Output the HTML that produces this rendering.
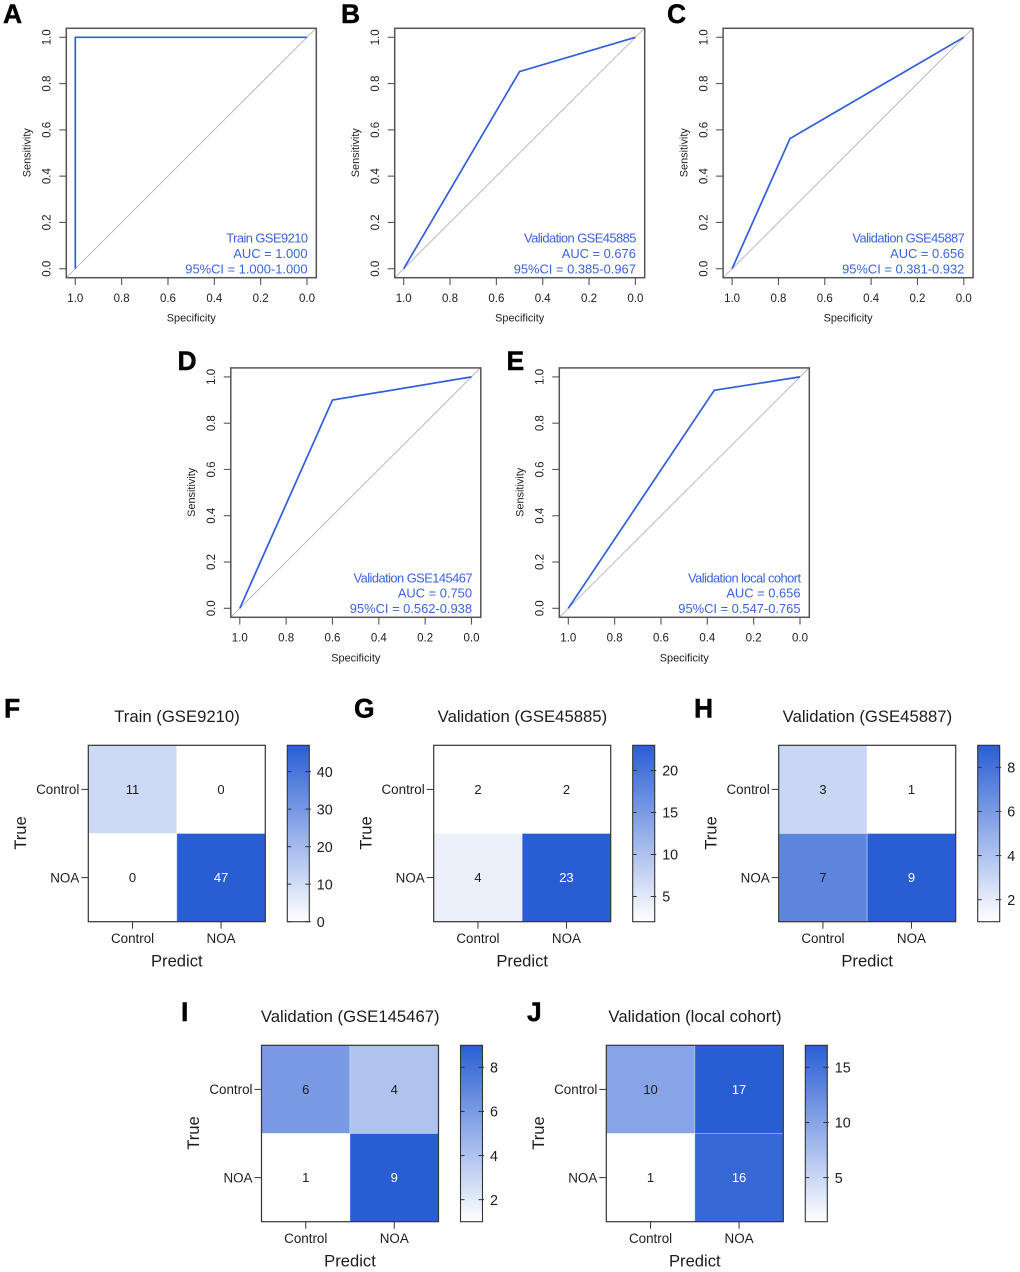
<!DOCTYPE html>
<html lang="en">
<head>
<meta charset="utf-8">
<title>ROC curves and confusion matrices</title>
<style>
html,body{margin:0;padding:0;background:#fff;width:1020px;height:1272px;overflow:hidden}
svg{display:block}
text{font-family:"Liberation Sans",Arial,sans-serif}
</style>
</head>
<body>
<svg id="figure" xmlns="http://www.w3.org/2000/svg" width="1020" height="1272" viewBox="0 0 1020 1272"></svg>
<script>
// ROC data
const rocLetters = ['A','B','C','D','E'];
const rocSpecificity = [[1,1,0],[1,0.5,0],[1,0.75,0],[1,0.6,0],[1,0.37,0]];
const rocSensitivity = [[0,1,1],[0,0.852,1],[0,0.5625,1],[0,0.9,1],[0,0.942,1]];
const rocCohorts = ['Train GSE9210','Validation GSE45885','Validation GSE45887','Validation GSE145467','Validation local cohort'];
const rocAuc = ['AUC = 1.000','AUC = 0.676','AUC = 0.656','AUC = 0.750','AUC = 0.656'];
const rocCi = ['95%CI = 1.000-1.000','95%CI = 0.385-0.967','95%CI = 0.381-0.932','95%CI = 0.562-0.938','95%CI = 0.547-0.765'];
const rocTicks = [1.0,0.8,0.6,0.4,0.2,0.0];
// Confusion matrix data
const matrixLetters = ['F','G','H','I','J'];
const matrixTitles = ['Train (GSE9210)','Validation (GSE45885)','Validation (GSE45887)','Validation (GSE145467)','Validation (local cohort)'];
const matrixClasses = ['Control','NOA'];
const matrixValues = [[[11,0],[0,47]],[[2,2],[4,23]],[[3,1],[7,9]],[[6,4],[1,9]],[[10,17],[1,16]]];
const colorbarTicks = [[0,10,20,30,40],[5,10,15,20],[2,4,6,8],[2,4,6,8],[5,10,15]];

const NS = 'http://www.w3.org/2000/svg';
const root = document.getElementById('figure');
const INK = '#1c1c1c';
const BLUE = '#3a63e2';
const HIGH = [41,94,211];

function make(tag, parent, attrs) {
  const node = document.createElementNS(NS, tag);
  for (const k in attrs) node.setAttribute(k, attrs[k]);
  parent.appendChild(node);
  return node;
}
function label(parent, str, x, y, size, anchor, fill, rotate, weight) {
  const attrs = {x: x, y: y, 'font-size': size, 'text-anchor': anchor || 'start', fill: fill || INK};
  if (rotate) attrs.transform = 'rotate(' + rotate + ' ' + x + ' ' + y + ')';
  if (weight) {
    attrs['font-weight'] = weight;
    attrs.stroke = fill;
    attrs['stroke-width'] = 0.4;
  }
  const node = make('text', parent, attrs);
  node.textContent = str;
  return node;
}
function cellColor(t) {
  const c = HIGH.map(function (h) { return Math.round(255 + (h - 255) * t); });
  return 'rgb(' + c.join(',') + ')';
}

function drawRoc(i, ox, oy, letterX, letterY) {
  const xScale = function (v) { return ox + 75.3 + (1 - v) * 231.7; };
  const yScale = function (v) { return oy + 268.7 - v * 231.4; };
  const g = make('g', root, {});
  
  

  const letter = label(g, rocLetters[i], letterX, letterY, 26.5, 'start', '#000', 0, 'bold');
  
  

  const diag = make('line', g, {x1: xScale(1.04), y1: yScale(-0.04), x2: xScale(-0.04), y2: yScale(1.04), stroke: '#b9b9b9', 'stroke-width': 1});
  
  

  const pts = rocSpecificity[i].map(function (s, k) { return xScale(s) + ',' + yScale(rocSensitivity[i][k]); }).join(' ');
  const curve = make('polyline', g, {points: pts, fill: 'none', stroke: '#2f5fe0', 'stroke-width': 1.7});
  
  

  const box = make('rect', g, {x: ox + 66.3, y: oy + 28.3, width: 250, height: 249.4, fill: 'none', stroke: '#555', 'stroke-width': 1.5});
  
  

  rocTicks.forEach(function (v) {
    const xt = make('line', g, {x1: xScale(v), y1: oy + 277.7, x2: xScale(v), y2: oy + 285, stroke: '#555', 'stroke-width': 1.1});
    
    
    const xl = label(g, v.toFixed(1), xScale(v), oy + 302, 11.5, 'middle');
    
    
    const yt = make('line', g, {x1: ox + 59.3, y1: yScale(v), x2: ox + 66.3, y2: yScale(v), stroke: '#555', 'stroke-width': 1.1});
    
    
    const yl = label(g, v.toFixed(1), ox + 50.5, yScale(v), 11.5, 'middle', INK, -90);
    
    
  });

  const xTitle = label(g, 'Specificity', ox + 191.3, oy + 321.7, 10.9, 'middle');
  
  
  const yTitle = label(g, 'Sensitivity', ox + 30.7, oy + 152.7, 10.9, 'middle', INK, -90);
  
  

  const cohort = label(g, rocCohorts[i], ox + 307.5, oy + 242.7, 12.9, 'end', BLUE);
  cohort.setAttribute('letter-spacing', '-0.55');
  
  
  const auc = label(g, rocAuc[i], ox + 307.5, oy + 258, 12.9, 'end', BLUE);
  
  
  const ci = label(g, rocCi[i], ox + 307.5, oy + 273.5, 12.9, 'end', BLUE);
  
  
}

function drawMatrix(i, ox, oy, letterX, letterY) {
  const vals = matrixValues[i];
  const flat = vals[0].concat(vals[1]);
  const lo = Math.min.apply(null, flat);
  const hi = Math.max.apply(null, flat);
  const norm = function (v) { return (v - lo) / (hi - lo); };
  const left = ox + 88.3, top = oy + 745.3, cellW = 88.5, cellH = 88.2;
  const barLeft = ox + 287.3, barW = 22, barH = 2 * cellH;
  const barY = function (v) { return top + barH - norm(v) * barH; };

  const g = make('g', root, {});
  
  

  const letter = label(g, matrixLetters[i], letterX, letterY, 26.5, 'start', '#000', 0, 'bold');
  
  

  const title = label(g, matrixTitles[i], ox + 177, oy + 722, 16.7, 'middle');
  
  

  vals.forEach(function (row, r) {
    row.forEach(function (v, c) {
      const cell = make('rect', g, {x: left + c * cellW, y: top + r * cellH, width: cellW, height: cellH, fill: cellColor(norm(v)), stroke: 'rgba(255,255,255,0.3)', 'stroke-width': 1});
      
      
      const t = label(g, String(v), left + (c + 0.5) * cellW, top + (r + 0.5) * cellH + 4.6, 13, 'middle', norm(v) > 0.8 ? '#fff' : INK);
      
      
    });
  });

  const frame = make('rect', g, {x: left, y: top, width: 2 * cellW, height: 2 * cellH, fill: 'none', stroke: '#333', 'stroke-width': 1.2});
  
  

  matrixClasses.forEach(function (name, k) {
    const cx = left + (k + 0.5) * cellW, cy = top + (k + 0.5) * cellH;
    const yt = make('line', g, {x1: left - 7, y1: cy, x2: left, y2: cy, stroke: '#333', 'stroke-width': 1});
    
    
    const yl = label(g, name, left - 9, cy + 4.7, 13.4, 'end');
    
    
    const xt = make('line', g, {x1: cx, y1: top + 2 * cellH, x2: cx, y2: top + 2 * cellH + 7, stroke: '#333', 'stroke-width': 1});
    
    
    const xl = label(g, name, cx, top + 2 * cellH + 21.2, 13.4, 'middle');
    
    
  });

  const xTitle = label(g, 'Predict', left + cellW, oy + 966.5, 16.6, 'middle');
  
  
  const yTitle = label(g, 'True', ox + 26, oy + 833, 16.6, 'middle', INK, -90);
  
  

  const gradId = 'bar-gradient-' + i;
  const grad = make('linearGradient', g, {id: gradId, x1: 0, y1: 1, x2: 0, y2: 0});
  make('stop', grad, {offset: '0', 'stop-color': cellColor(0)});
  make('stop', grad, {offset: '1', 'stop-color': cellColor(1)});
  const bar = make('rect', g, {x: barLeft, y: top, width: barW, height: barH, fill: 'url(#' + gradId + ')', stroke: '#333', 'stroke-width': 1.1});
  
  

  colorbarTicks[i].forEach(function (v) {
    const y = barY(v);
    const t1 = make('line', g, {x1: barLeft, y1: y, x2: barLeft + 4, y2: y, stroke: '#333', 'stroke-width': 1});
    
    
    const t2 = make('line', g, {x1: barLeft + barW - 4, y1: y, x2: barLeft + barW + 1.5, y2: y, stroke: '#333', 'stroke-width': 1});
    
    
    const tl = label(g, String(v), barLeft + barW + 7.5, y + 5.2, 14.3, 'start');
    
    
  });
}

drawRoc(0, 0, 0, 3, 23);
drawRoc(1, 328.4, 0, 341, 23);
drawRoc(2, 656.8, 0, 667, 23);
drawRoc(3, 164.5, 339.6, 177.5, 370);
drawRoc(4, 493, 339.6, 506.5, 370);

drawMatrix(0, 0, 0, 4, 717.5);
drawMatrix(1, 345.4, 0, 354, 717.5);
drawMatrix(2, 690.4, 0, 694, 717.5);
drawMatrix(3, 173.2, 300, 181, 1021);
drawMatrix(4, 518, 300, 527, 1021);
</script>
</body>
</html>
